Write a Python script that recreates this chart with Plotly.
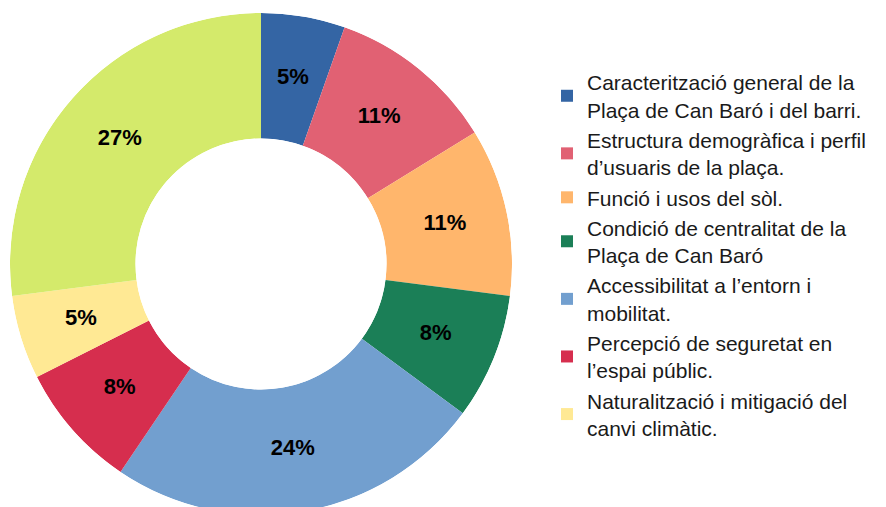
import plotly.graph_objects as go

categories = [
    "Caracterització general de la<br>Plaça de Can Baró i del barri.",
    "Estructura demogràfica i perfil<br>d’usuaris de la plaça.",
    "Funció i usos del sòl.",
    "Condició de centralitat de la<br>Plaça de Can Baró",
    "Accessibilitat a l’entorn i<br>mobilitat.",
    "Percepció de seguretat en<br>l’espai públic.",
    "Naturalització i mitigació del<br>canvi climàtic.",
    "Altres",
]
values = [2, 4, 4, 3, 9, 3, 2, 10]
colors = ["#3465A4", "#E16173", "#FFB66C", "#1B7F57", "#729FCF", "#D62E4E", "#FFE994", "#D4EA6B"]
legend_count = 7

FONT = "Liberation Sans, Arial, sans-serif"
W, H = 886, 507

total = sum(values)
widths = [v / total * 360 for v in values]
mids = []
acc = 0.0
for w in widths:
    mids.append(acc + w / 2)
    acc += w
pct_text = [f"{round(v / total * 100)}%" for v in values]

fig = go.Figure()
fig.add_trace(go.Barpolar(
    r=[1] * len(values), theta=mids, width=widths,
    marker=dict(color=colors, line=dict(width=0)),
    showlegend=False, hoverinfo="skip",
))
fig.add_trace(go.Scatterpolar(
    r=[0.5] * len(values), theta=mids, mode="text", text=pct_text,
    textfont=dict(family=FONT, size=22, color="black", weight="bold"),
    showlegend=False, hoverinfo="skip",
))

for name, col in zip(categories[:legend_count], colors[:legend_count]):
    fig.add_trace(go.Scatter(
        x=[None], y=[None], mode="markers", name=name,
        marker=dict(symbol="square", size=14, color=col),
        showlegend=True,
    ))

fig.update_layout(
    width=W, height=H,
    margin=dict(l=0, r=0, t=5, b=0),
    paper_bgcolor="white", plot_bgcolor="white",
    font=dict(family=FONT, size=21, color="#1a1a1a"),
    xaxis=dict(visible=False), yaxis=dict(visible=False),
    polar=dict(
        domain=dict(x=[2 / W, 504 / W], y=[0, 1]),
        hole=0.5, bgcolor="rgba(0,0,0,0)",
        radialaxis=dict(range=[0, 1], showline=False, showticklabels=False,
                        ticks="", showgrid=False),
        angularaxis=dict(rotation=90, direction="clockwise", thetaunit="degrees",
                         showline=False, showticklabels=False, ticks="",
                         showgrid=False),
        bargap=0,
    ),
    legend=dict(x=539 / W, y=0.518, xanchor="left", yanchor="middle",
                font=dict(family=FONT, size=21, color="#1a1a1a"),
                itemsizing="constant", tracegroupgap=0,
                bgcolor="rgba(0,0,0,0)"),
)

fig.write_html("out.html")
